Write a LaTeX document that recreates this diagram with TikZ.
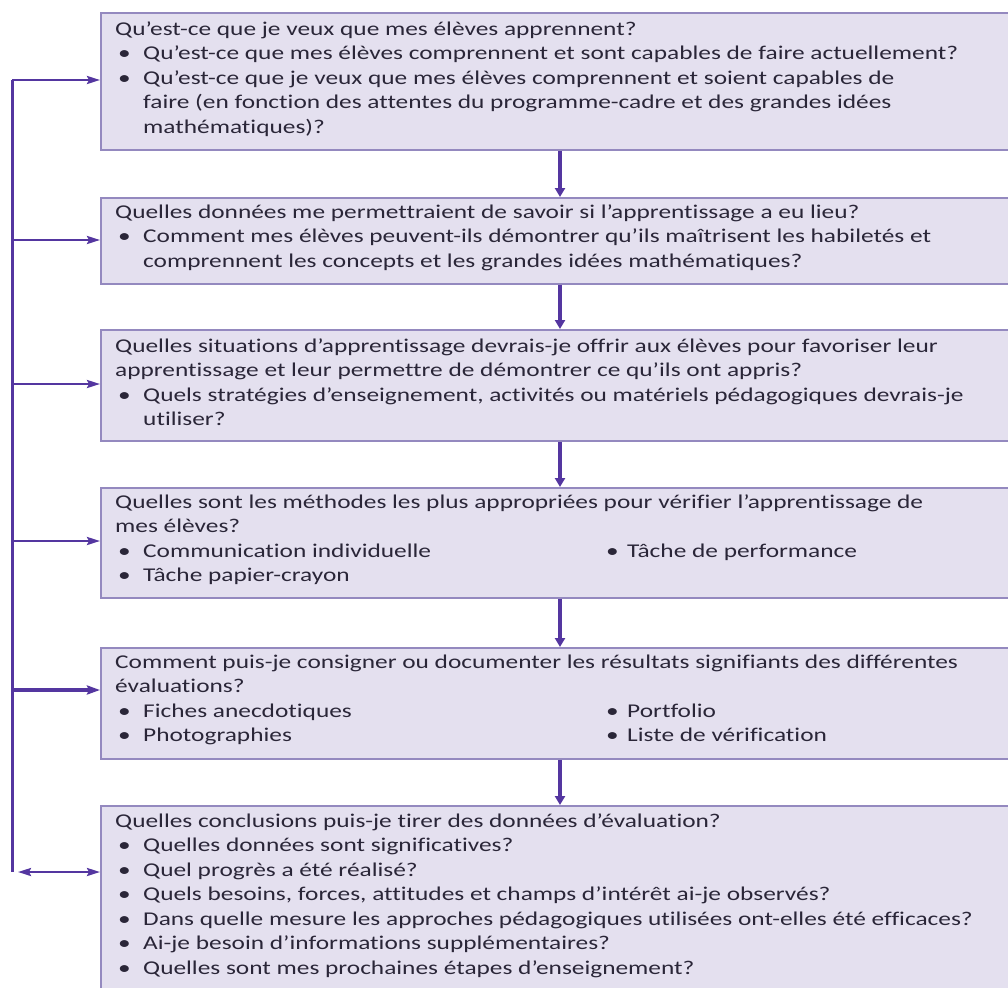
\documentclass[tikz,border=0pt]{standalone}
\usepackage{fontspec}
\setmainfont[FakeStretch=1.3,Ligatures=NoCommon]{Carlito}
\usetikzlibrary{arrows.meta,calc}
\definecolor{boxfill}{HTML}{E4E0EF}
\definecolor{boxline}{HTML}{9489BF}
\definecolor{arr}{HTML}{5436A0}
\definecolor{txt}{HTML}{2A2638}
\newcommand{\bul}{\makebox[28pt][l]{\hspace{3pt}•}}
\newcommand{\bulb}{\makebox[22pt][l]{\hspace{1pt}•}}
\newcommand{\ind}{\hspace*{28pt}}
\newcommand{\fst}{\rule{0pt}{16pt}}
\begin{document}
\begin{tikzpicture}[x=1pt,y=-1pt,
  box/.style={draw=boxline, line width=1.8pt, fill=boxfill, anchor=north west,
    minimum width=920pt, inner sep=0pt},
  txtnode/.style={anchor=north west, inner sep=0pt, align=left, text=txt,
    font=\fontsize{19.5}{24.5}\selectfont},
  down/.style={-{Triangle[length=9pt,width=10pt]}, draw=arr, line width=4pt},
  side/.style={-{Stealth[length=13pt,width=8pt,inset=2pt]}, draw=arr, line width=2.4pt},
  sidethick/.style={-{Stealth[length=13pt,width=9pt,inset=2pt]}, draw=arr, line width=3.6pt},
  spine/.style={draw=arr, line width=3pt}]
\clip (0,0) rectangle (1008,987);
\fill[white] (0,0) rectangle (1008,987);

\node[box, minimum height=137pt] (b1) at (100,12) {};
\node[box, minimum height=86pt]  (b2) at (100,197) {};
\node[box, minimum height=111pt] (b3) at (100,329) {};
\node[box, minimum height=110pt] (b4) at (100,487) {};
\node[box, minimum height=111pt] (b5) at (100,647) {};
\node[box, minimum height=200pt] (b6) at (100,805) {};

\node[txtnode] (t1) at (115,19) {\fst Qu’est-ce que je veux que mes élèves apprennent?\\
\bul Qu’est-ce que mes élèves comprennent et sont capables de faire actuellement?\\
\bul Qu’est-ce que je veux que mes élèves comprennent et soient capables de\\
\ind faire (en fonction des attentes du programme-cadre et des grandes idées\\
\ind mathématiques)?};

\node[txtnode] (t2) at (115,202) {\fst Quelles données me permettraient de savoir si l’apprentissage a eu lieu?\\
\bul Comment mes élèves peuvent-ils démontrer qu’ils maîtrisent les habiletés et\\
\ind comprennent les concepts et les grandes idées mathématiques?};

\node[txtnode] (t3) at (115,336) {\fst Quelles situations d’apprentissage devrais-je offrir aux élèves pour favoriser leur\\
apprentissage et leur permettre de démontrer ce qu’ils ont appris?\\
\bul Quels stratégies d’enseignement, activités ou matériels pédagogiques devrais-je\\
\ind utiliser?};

\node[txtnode] (t4) at (115,492) {\fst Quelles sont les méthodes les plus appropriées pour vérifier l’apprentissage de\\
mes élèves?\\
\makebox[490pt][l]{\bul Communication individuelle}\bulb Tâche de performance\\
\bul Tâche papier-crayon};

\node[txtnode] (t5) at (115,652) {\fst Comment puis-je consigner ou documenter les résultats signifiants des différentes\\
évaluations?\\
\makebox[490pt][l]{\bul Fiches anecdotiques}\bulb Portfolio\\
\makebox[490pt][l]{\bul Photographies}\bulb Liste de vérification};

\node[txtnode] (t6) at (115,811) {\fst Quelles conclusions puis-je tirer des données d’évaluation?\\
\bul Quelles données sont significatives?\\
\bul Quel progrès a été réalisé?\\
\bul Quels besoins, forces, attitudes et champs d’intérêt ai-je observés?\\
\bul Dans quelle mesure les approches pédagogiques utilisées ont-elles été efficaces?\\
\bul Ai-je besoin d’informations supplémentaires?\\
\bul Quelles sont mes prochaines étapes d’enseignement?};

% vertical flow arrows
\coordinate (x) at (560,0);
\draw[down] (b1.south -| x) -- (b2.north -| x);
\draw[down] (b2.south -| x) -- (b3.north -| x);
\draw[down] (b3.south -| x) -- (b4.north -| x);
\draw[down] (b4.south -| x) -- (b5.north -| x);
\draw[down] (b5.south -| x) -- (b6.north -| x);

% feedback spine
\coordinate (j1) at (12,80);
\coordinate (j2) at (12,240);
\coordinate (j3) at (12,384);
\coordinate (j4) at (12,541);
\coordinate (j5) at (12,690);
\coordinate (j6) at (12,872);
\draw[spine] (j1) -- (j6);
\draw[side] (j1) -- (j1 -| b1.west);
\draw[side] (j2) -- (j2 -| b2.west);
\draw[side] (j3) -- (j3 -| b3.west);
\draw[side] (j4) -- (j4 -| b4.west);
\draw[sidethick] (j5) -- (j5 -| b5.west);
\draw[side, {Stealth[length=13pt,width=8pt,inset=2pt]}-{Stealth[length=13pt,width=8pt,inset=2pt]}] ($(j6)+(6,0)$) -- (j6 -| b6.west);
\end{tikzpicture}
\end{document}
